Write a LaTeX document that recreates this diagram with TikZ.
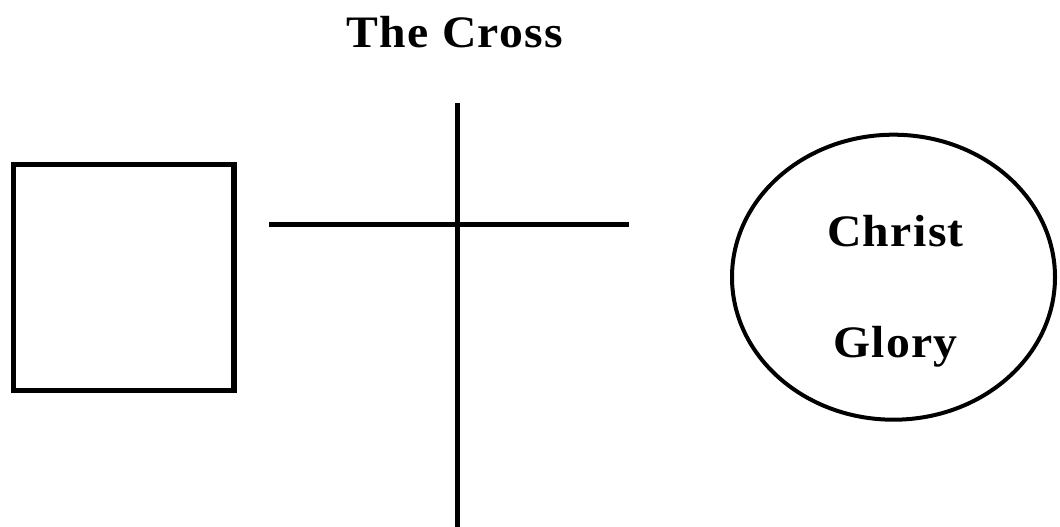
\documentclass[tikz,border=0pt]{standalone}
\usepackage{fontspec}
\setmainfont{Liberation Serif}
\newfontfamily\labelfont[FakeStretch=1.06,LetterSpace=3]{Liberation Serif}
\usetikzlibrary{shapes.geometric}
\begin{document}
\begin{tikzpicture}[x=1pt,y=-1pt,
  label text/.style={font=\labelfont\fontsize{45}{50}\selectfont\bfseries, anchor=base, inner sep=0pt},
  boxshape/.style={draw, line width=5.5pt, rectangle, minimum width=220.3pt, minimum height=226pt, inner sep=0pt},
  ringshape/.style={draw, line width=4pt, ellipse, minimum width=323pt, minimum height=285pt, inner sep=0pt},
  crossline/.style={line width=4.5pt}]
  \useasboundingbox[fill=white] (0,0) rectangle (1060,527);
  \node[label text] (title) at (455,47.5) {The Cross};
  \node[boxshape] (box) at (123.8,277.5) {};
  \coordinate (vtop) at (457.7,102.7);
  \coordinate (vbot) at (457.7,530);
  \coordinate (hleft) at (269.3,224.3);
  \coordinate (hright) at (628.7,224.3);
  \draw[crossline] (vtop) -- (vbot);
  \draw[crossline] (hleft) -- (hright);
  \node[ringshape] (ring) at (893.5,277.2) {};
  \node[label text] (christ) at (895.5,246.7) {Christ};
  \node[label text] (glory) at (895.5,357) {Glory};
\end{tikzpicture}
\end{document}
